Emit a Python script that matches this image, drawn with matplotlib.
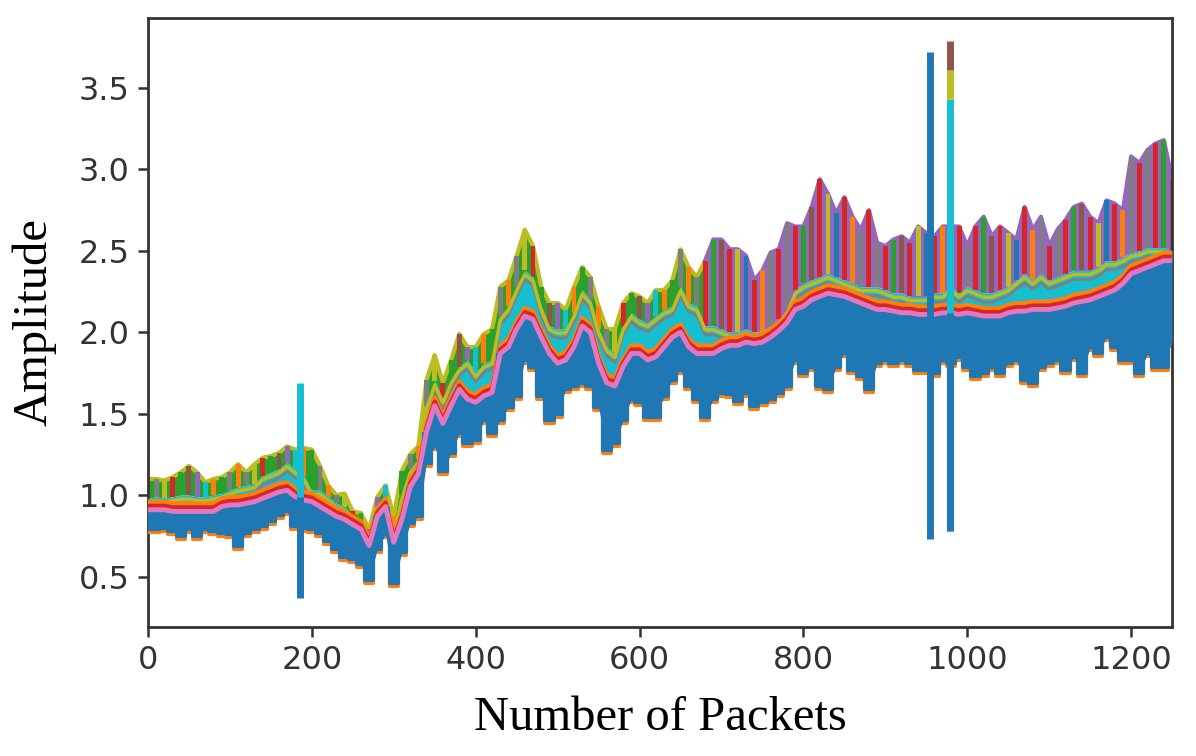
import numpy as np
import matplotlib
matplotlib.use("Agg")
import matplotlib.pyplot as plt
from matplotlib.transforms import offset_copy

# ---- data (every 10 packets) ----
packets = list(range(0, 1260, 10))

top_env = [1.10, 1.10, 1.09, 1.11, 1.14, 1.18, 1.14, 1.08, 1.10, 1.11,
           1.14, 1.19, 1.14, 1.19, 1.23, 1.24, 1.26, 1.30, 1.28, 1.29,
           1.28, 1.18, 1.06, 1.00, 1.01, 0.90, 0.89, 0.79, 0.99, 1.06,
           0.87, 1.15, 1.25, 1.30, 1.71, 1.86, 1.69, 1.83, 1.99, 1.91,
           1.91, 1.99, 2.02, 2.28, 2.32, 2.47, 2.63, 2.53, 2.28, 2.18,
           2.18, 2.14, 2.28, 2.40, 2.34, 2.16, 2.02, 2.02, 2.18, 2.24,
           2.22, 2.18, 2.26, 2.26, 2.32, 2.51, 2.40, 2.34, 2.44, 2.57,
           2.57, 2.51, 2.51, 2.47, 2.32, 2.38, 2.49, 2.51, 2.67, 2.65,
           2.65, 2.77, 2.94, 2.85, 2.73, 2.83, 2.71, 2.63, 2.75, 2.55,
           2.53, 2.57, 2.59, 2.55, 2.65, 2.61, 2.59, 2.65, 2.65, 2.65,
           2.53, 2.65, 2.71, 2.59, 2.65, 2.61, 2.57, 2.77, 2.63, 2.71,
           2.53, 2.63, 2.69, 2.77, 2.79, 2.71, 2.67, 2.81, 2.79, 2.75,
           3.08, 3.04, 3.12, 3.16, 3.18, 2.94]

mid_env = [0.98, 0.99, 0.98, 0.99, 1.00, 1.00, 0.99, 0.99, 1.00, 1.01,
           1.03, 1.05, 1.06, 1.07, 1.12, 1.14, 1.16, 1.20, 1.16, 1.12,
           1.03, 1.03, 0.99, 0.95, 0.93, 0.87, 0.84, 0.74, 0.93, 0.99,
           0.78, 1.00, 1.16, 1.22, 1.55, 1.70, 1.59, 1.71, 1.79, 1.83,
           1.75, 1.81, 1.83, 2.10, 2.16, 2.28, 2.38, 2.34, 2.16, 2.04,
           2.02, 2.02, 2.12, 2.26, 2.20, 2.02, 1.91, 1.87, 2.04, 2.12,
           2.08, 2.06, 2.10, 2.14, 2.16, 2.28, 2.18, 2.16, 2.04, 2.04,
           2.02, 2.00, 2.00, 2.02, 2.00, 2.01, 2.04, 2.08, 2.14, 2.26,
           2.30, 2.32, 2.34, 2.36, 2.34, 2.32, 2.30, 2.28, 2.28, 2.28,
           2.26, 2.24, 2.24, 2.22, 2.22, 2.22, 2.24, 2.24, 2.28, 2.24,
           2.28, 2.26, 2.24, 2.24, 2.26, 2.28, 2.32, 2.36, 2.32, 2.36,
           2.32, 2.34, 2.36, 2.38, 2.38, 2.38, 2.40, 2.44, 2.44, 2.46,
           2.49, 2.50, 2.52, 2.52, 2.52, 2.50]

pink_line = [0.91, 0.91, 0.91, 0.90, 0.90, 0.90, 0.90, 0.90, 0.90, 0.93,
             0.94, 0.94, 0.95, 0.96, 0.98, 1.00, 1.02, 1.03, 0.99, 0.97,
             0.96, 0.93, 0.90, 0.87, 0.85, 0.82, 0.79, 0.69, 0.87, 0.93,
             0.71, 0.85, 1.05, 1.13, 1.39, 1.55, 1.44, 1.55, 1.65, 1.59,
             1.57, 1.61, 1.63, 1.87, 1.91, 2.02, 2.10, 2.08, 1.97, 1.87,
             1.81, 1.83, 1.91, 2.04, 2.00, 1.81, 1.69, 1.67, 1.79, 1.87,
             1.87, 1.83, 1.85, 1.91, 1.97, 2.00, 1.91, 1.87, 1.87, 1.87,
             1.90, 1.92, 1.92, 1.94, 1.93, 1.94, 1.97, 2.01, 2.06, 2.14,
             2.16, 2.20, 2.22, 2.24, 2.23, 2.22, 2.20, 2.18, 2.16, 2.14,
             2.14, 2.13, 2.12, 2.12, 2.11, 2.11, 2.11, 2.12, 2.12, 2.11,
             2.12, 2.11, 2.10, 2.10, 2.10, 2.12, 2.13, 2.13, 2.14, 2.14,
             2.14, 2.15, 2.16, 2.18, 2.19, 2.20, 2.22, 2.24, 2.26, 2.30,
             2.36, 2.38, 2.40, 2.42, 2.44, 2.44]

low_env = [0.79, 0.79, 0.80, 0.78, 0.75, 0.79, 0.75, 0.79, 0.78, 0.77,
           0.76, 0.69, 0.77, 0.79, 0.81, 0.84, 0.88, 0.90, 0.81, 0.80,
           0.79, 0.77, 0.72, 0.67, 0.62, 0.61, 0.58, 0.48, 0.67, 0.76,
           0.46, 0.65, 0.83, 0.87, 1.20, 1.30, 1.15, 1.26, 1.38, 1.32,
           1.34, 1.46, 1.38, 1.46, 1.54, 1.61, 1.83, 1.79, 1.61, 1.46,
           1.50, 1.65, 1.67, 1.69, 1.67, 1.54, 1.28, 1.32, 1.46, 1.59,
           1.57, 1.48, 1.48, 1.61, 1.71, 1.77, 1.67, 1.59, 1.48, 1.59,
           1.63, 1.62, 1.58, 1.63, 1.55, 1.57, 1.59, 1.63, 1.67, 1.83,
           1.75, 1.79, 1.67, 1.65, 1.79, 1.87, 1.77, 1.73, 1.65, 1.81,
           1.83, 1.81, 1.83, 1.81, 1.77, 1.77, 1.75, 1.83, 1.81, 1.85,
           1.79, 1.73, 1.75, 1.79, 1.75, 1.81, 1.83, 1.71, 1.69, 1.79,
           1.81, 1.83, 1.77, 1.85, 1.75, 1.91, 1.87, 1.97, 1.91, 1.83,
           1.83, 1.75, 1.87, 1.79, 1.79, 1.95]

# isolated spikes
spike_packets = [185, 954, 979]
spike_top = [1.69, 3.72, 3.79]
spike_bottom = [0.37, 0.73, 0.78]
spike2_bands = [3.43, 3.61]          # cyan -> olive -> brown on the 979 spike

x_ticks = [0, 200, 400, 600, 800, 1000, 1200]
y_ticks = [0.5, 1.0, 1.5, 2.0, 2.5, 3.0, 3.5]

# ---- figure ----
fig = plt.figure(figsize=(11.96, 7.56), dpi=100)
ax = fig.add_axes([0.1237, 0.1706, 0.8563, 0.8055])

x = np.array(packets, dtype=float)
top = np.array(top_env)
mid = np.array(mid_env)
pink = np.array(pink_line)
low = np.array(low_env)

left_cols = ['tab:orange', 'tab:gray', 'tab:olive', 'tab:red', 'tab:green',
             'tab:brown', 'tab:purple', 'tab:cyan', 'tab:orange', 'tab:green',
             'tab:gray']
right_cols = ['tab:red', 'tab:gray', 'tab:red', 'tab:green', 'tab:brown',
              'tab:red', 'tab:olive', 'tab:blue', 'tab:red', 'tab:orange',
              'tab:gray']
colors = [(left_cols if xi < 680 else right_cols)[i % 11] for i, xi in enumerate(x)]
left = x <= 680
right = x >= 680

def shifted(dy):
    return offset_copy(ax.transData, fig=fig, x=0, y=dy, units='dots')

# upper spiky zone
ax.fill_between(x, mid, top, where=left, color='tab:green', linewidth=0, zorder=2)
ax.fill_between(x, mid, top, where=right, color='tab:purple', linewidth=0, zorder=2)
ax.plot(x[left], top[left], color='tab:olive', lw=3, zorder=2)
ax.plot(x[right], top[right], color='tab:purple', lw=3, zorder=2)
ax.bar(x, top - mid, bottom=mid, width=6, color=colors, linewidth=0, zorder=2.5)
# middle zone
ax.fill_between(x, pink, mid, color='tab:cyan', linewidth=0, zorder=3)
ax.plot(x, mid, color='tab:olive', lw=2.5, zorder=3.5, transform=shifted(-4))
ax.plot(x, mid, color='tab:gray', lw=2.0, zorder=3.4, transform=shifted(-9))
ax.plot(x, pink, color='tab:orange', lw=3, zorder=4, transform=shifted(8))
ax.plot(x, pink, color='tab:red', lw=3, zorder=4, transform=shifted(4))
# lower orange fringe + blue band
ax.plot(x, low, drawstyle='steps-mid', color='tab:orange', lw=3, zorder=4, transform=shifted(-3))
ax.fill_between(x, low, pink, color='tab:blue', linewidth=0, zorder=5)
ax.fill_between(x, low, pink, step='mid', color='tab:blue', linewidth=0, zorder=5)
ax.plot(x, low, drawstyle='steps-mid', color='tab:blue', lw=3, zorder=5)
ax.plot(x, pink, color='tab:pink', lw=3.5, zorder=6)

# spikes
ax.vlines(spike_packets[0], pink[18], spike_top[0], color='tab:cyan', lw=5, zorder=6)
ax.vlines(spike_packets[0], spike_bottom[0], pink[18], color='tab:blue', lw=5, zorder=6)
ax.vlines(spike_packets[1], spike_bottom[1], spike_top[1], color='tab:blue', lw=5, zorder=6)
ax.vlines(spike_packets[2], spike_bottom[2], spike2_bands[0], color='tab:cyan', lw=5, zorder=6)
ax.vlines(spike_packets[2], spike2_bands[0], spike2_bands[1], color='tab:olive', lw=5, zorder=6)
ax.vlines(spike_packets[2], spike2_bands[1], spike_top[2], color='tab:brown', lw=5, zorder=6)
ax.vlines(spike_packets[2], spike_bottom[2], pink[97], color='tab:blue', lw=5, zorder=7)

ax.set_xlim(0, 1250)
ax.set_ylim(0.19, 3.93)
ax.set_xticks(x_ticks)
ax.set_yticks(y_ticks)

for s in ax.spines.values():
    s.set_linewidth(2)
    s.set_color('#333333')
ax.tick_params(axis='both', direction='out', length=7, width=1.8, color='#333333',
               labelsize=23, labelcolor='#333333', pad=6)

ax.set_xlabel('Number of Packets', fontsize=35, family='Liberation Serif', labelpad=14)
ax.set_ylabel('Amplitude', fontsize=35, family='Liberation Serif', labelpad=16)

fig.savefig('out.png', dpi=100)
